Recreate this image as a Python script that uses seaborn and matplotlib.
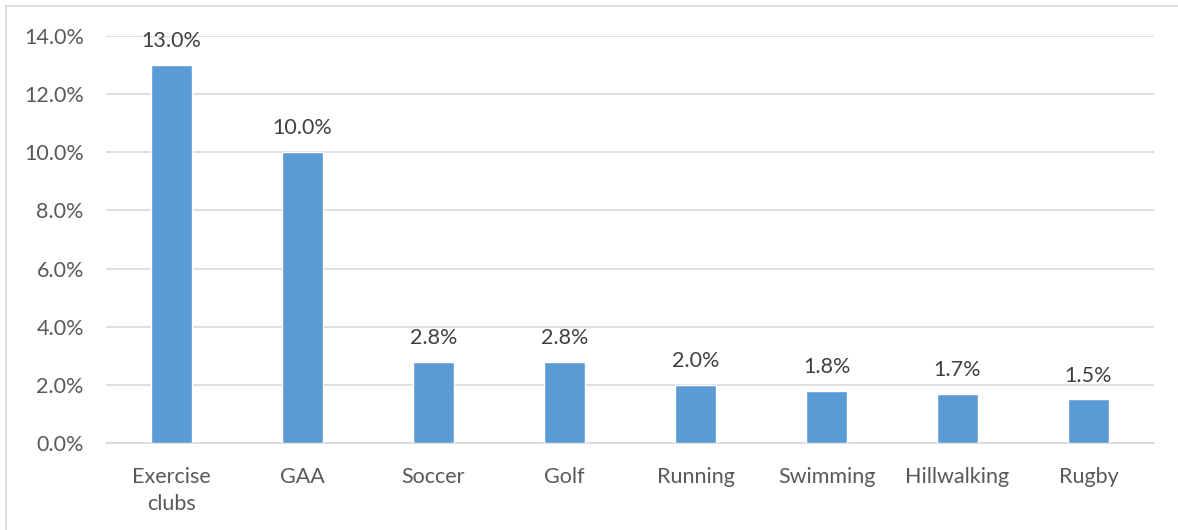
import matplotlib
matplotlib.use("Agg")
import matplotlib.pyplot as plt
import seaborn as sns
import pandas as pd
from matplotlib.patches import Rectangle
from matplotlib.ticker import FuncFormatter, MultipleLocator

categories = ["Exercise\nclubs", "GAA", "Soccer", "Golf", "Running", "Swimming", "Hillwalking", "Rugby"]
values = [13.0, 10.0, 2.8, 2.8, 2.0, 1.8, 1.7, 1.5]

sns.set_theme(style="white")
plt.rcParams["font.family"] = ["Lato", "DejaVu Sans"]

df = pd.DataFrame({"category": categories, "value": values})

W, H = 1178, 530
fig = plt.figure(figsize=(W / 100, H / 100), dpi=100)
ax = fig.add_axes([106 / W, 1 - 443 / H, (1154 - 106) / W, (443 - 36) / H])

sns.barplot(data=df, x="category", y="value", color="#5B9BD5", width=0.32,
            saturation=1, ax=ax, zorder=3)

ax.set_ylim(0, 14)
ax.yaxis.set_major_locator(MultipleLocator(2))
ax.yaxis.set_major_formatter(FuncFormatter(lambda v, _: f"{v:.1f}%"))
ax.grid(axis="y", color="#D9D9D9", linewidth=1.2, zorder=0)
ax.set_axisbelow(True)
for s in ["top", "right", "left"]:
    ax.spines[s].set_visible(False)
ax.spines["bottom"].set_color("#D9D9D9")
ax.spines["bottom"].set_linewidth(1.2)
ax.set_xlabel("")
ax.set_ylabel("")
ax.tick_params(axis="both", length=0, labelsize=15.5, colors="#595959")
ax.tick_params(axis="y", pad=16)
ax.tick_params(axis="x", pad=17)
for lbl in ax.get_xticklabels():
    lbl.set_linespacing(1.45)

for i, v in enumerate(values):
    ax.annotate(f"{v:.1f}%", (i, v), xytext=(0, 10), textcoords="offset points",
                ha="center", va="bottom", fontsize=15.5, color="#404040")

fig.patches.append(Rectangle((6 / W, -0.05), 1.1, 1 - 6 / H + 0.05, transform=fig.transFigure,
                             fill=False, edgecolor="#D9D9D9", linewidth=1.2))

fig.savefig("out.png", dpi=100, facecolor="white")
